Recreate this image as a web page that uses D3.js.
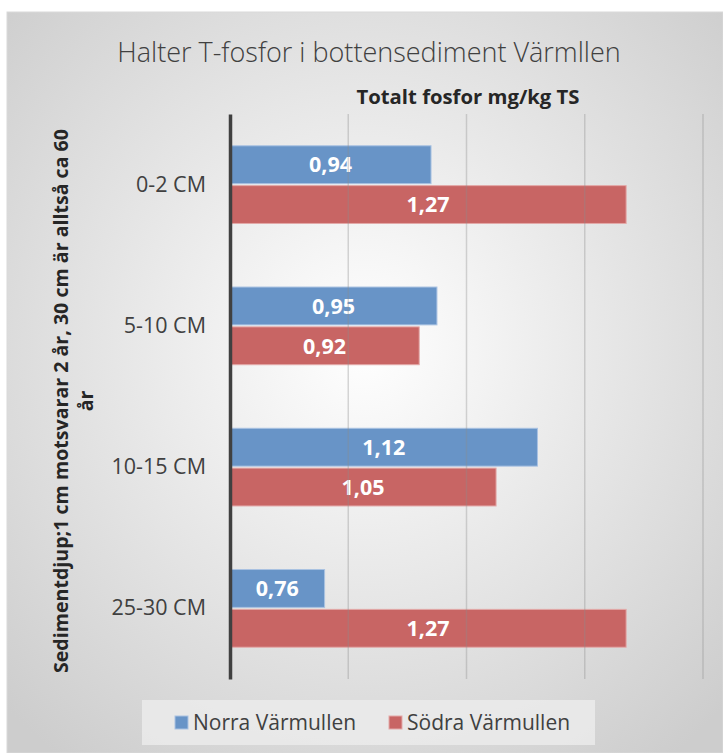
<!DOCTYPE html>
<html>
<head>
<meta charset="utf-8">
<script src="https://d3js.org/d3.v7.min.js"></script>
<style>
  body { margin: 0px; background: #fff; }
  text { font-family: "Open Sans", sans-serif; }
</style>
</head>
<body>
<div id="my_dataviz"></div>
<script>
  // data
  const categories = ["0-2 CM", "5-10 CM", "10-15 CM", "25-30 CM"];
  const seriesNames = ["Norra Värmullen", "Södra Värmullen"];
  const norra = [0.94, 0.95, 1.12, 0.76];
  const sodra = [1.27, 0.92, 1.05, 1.27];
  const xTicks = [0.6, 0.8, 1.0, 1.2, 1.4];
  const colors = ["#6894c7", "#c86564"];

  const W = 723, H = 753;
  const plot = { left: 230, right: 703, top: 114, bottom: 679 };

  const svg = d3.select("#my_dataviz").append("svg")
    .attr("width", W).attr("height", H);

  const defs = svg.append("defs");
  const grad = defs.append("radialGradient").attr("id", "bg")
    .attr("cx", "50%").attr("cy", "45%").attr("r", "70%");
  grad.append("stop").attr("offset", "0%").attr("stop-color", "#ffffff");
  grad.append("stop").attr("offset", "100%").attr("stop-color", "#cdcdcd");

  svg.append("rect").attr("x", 7).attr("y", 12).attr("width", W - 7).attr("height", H - 12)
    .attr("fill", "url(#bg)").attr("stroke", "#d9d9d9");

  const x = d3.scaleLinear().domain([0.6, 1.4]).range([plot.left, plot.right]);
  const y = d3.scaleBand().domain(categories).range([plot.top, plot.bottom]).paddingInner(0.45).paddingOuter(0.225);
  const y1 = d3.scaleBand().domain([0, 1]).range([0, y.bandwidth()]).paddingInner(0.05);

  // bars
  const groups = svg.selectAll("g.cat").data(categories).enter().append("g")
    .attr("transform", d => `translate(0,${y(d)})`);
  [norra, sodra].forEach((vals, s) => {
    groups.append("rect")
      .attr("x", x(0.6))
      .attr("y", y1(s))
      .attr("width", (d, i) => x(vals[i]) - x(0.6))
      .attr("height", y1.bandwidth())
      .attr("fill", colors[s])
      .attr("stroke", s === 0 ? "#a9c2e2" : "#e3a9a8")
      .attr("stroke-width", 1);
    groups.append("text")
      .attr("x", (d, i) => (x(0.6) + x(vals[i])) / 2)
      .attr("y", y1(s) + y1.bandwidth() / 2)
      .attr("dy", "0.36em")
      .attr("text-anchor", "middle")
      .attr("fill", "#fff")
      .attr("font-weight", "bold")
      .attr("font-size", "21.5px")
      .text((d, i) => vals[i].toFixed(2).replace(".", ","));
  });

  // gridlines over bars
  svg.append("g").selectAll("line").data(xTicks.slice(1)).enter().append("line")
    .attr("x1", d => x(d)).attr("x2", d => x(d))
    .attr("y1", plot.top).attr("y2", plot.bottom)
    .attr("stroke", "#8c8c8c").attr("stroke-opacity", 0.35).attr("stroke-width", 1.5);

  // y axis
  const yAxis = svg.append("g").attr("transform", `translate(${plot.left},0)`)
    .call(d3.axisLeft(y).tickSize(0).tickPadding(24));
  yAxis.select(".domain").attr("stroke", "#404040").attr("stroke-width", 3.5);
  yAxis.selectAll("text").attr("font-size", "21.5px").attr("fill", "#404040")
    .style("font-family", "'Open Sans', sans-serif");

  // titles
  svg.append("text").attr("x", 369).attr("y", 62).attr("text-anchor", "middle")
    .attr("font-size", "27px").attr("font-weight", 300).attr("fill", "#404040")
    .text("Halter T-fosfor i bottensediment Värmllen");
  svg.append("text").attr("x", 468).attr("y", 104).attr("text-anchor", "middle")
    .attr("font-size", "20.3px").attr("font-weight", "bold").attr("fill", "#262626")
    .text("Totalt fosfor mg/kg TS");

  const yt = svg.append("text").attr("transform", "translate(68,401) rotate(-90)")
    .attr("text-anchor", "middle").attr("font-size", "19.6px").attr("font-weight", "bold").attr("fill", "#262626");
  yt.append("tspan").attr("x", 0).attr("dy", 0).text("Sedimentdjup;1 cm motsvarar 2 år, 30 cm är alltså ca 60");
  yt.append("tspan").attr("x", 0).attr("dy", "1.3em").text("år");

  // legend
  svg.append("rect").attr("x", 142).attr("y", 700).attr("width", 453).attr("height", 45)
    .attr("fill", "#ececec").attr("fill-opacity", 0.8);
  const legX = [175, 389];
  seriesNames.forEach((n, i) => {
    svg.append("rect").attr("x", legX[i]).attr("y", 716).attr("width", 13).attr("height", 13)
      .attr("fill", colors[i]).attr("stroke", i === 0 ? "#a9c2e2" : "#e3a9a8");
    svg.append("text").attr("x", legX[i] + 18).attr("y", 723).attr("dy", "0.35em")
      .attr("font-size", "21px").attr("fill", "#404040").text(n);
  });
</script>
</body>
</html>
